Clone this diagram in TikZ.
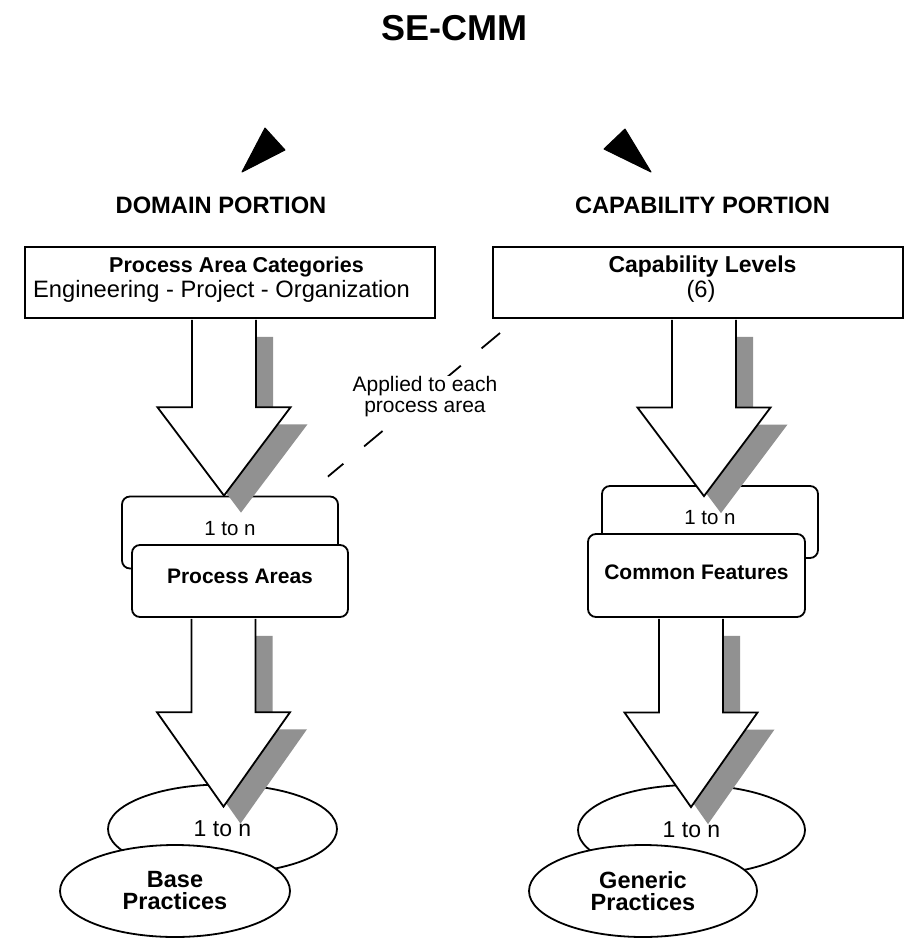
\documentclass[tikz,border=0pt]{standalone}
\usepackage{fontspec}
\setmainfont{Liberation Sans}
\usepackage{xcolor}
\usetikzlibrary{shapes.geometric, arrows, positioning, calc}

\definecolor{shadowgray}{RGB}{145,145,145}

% hollow block arrow with a flat gray shadow, from top point to tip point
\newcommand{\fatarrow}[2]{%
  \fill[shadowgray] let \p1=(#1), \p2=(#2), \p3=($(#1)!0.5!(#2)$) in
    (\x1-15pt,\y1-17.9pt) -- (\x1-15pt,\y3-17pt) -- (\x1-49.5pt,\y3-17pt) -- (\x2+17pt,\y2-17pt)
    -- (\x1+83.5pt,\y3-17pt) -- (\x1+49pt,\y3-17pt) -- (\x1+49pt,\y1-17.9pt) -- cycle;
  \filldraw[fill=white, line width=1.8pt] let \p1=(#1), \p2=(#2), \p3=($(#1)!0.5!(#2)$) in
    (\x1-32pt,\y1-0.9pt) -- (\x1-32pt,\y3) -- (\x1-66.5pt,\y3) -- (\x2,\y2)
    -- (\x1+66.5pt,\y3) -- (\x1+32pt,\y3) -- (\x1+32pt,\y1-0.9pt);
}

\begin{document}
\begin{tikzpicture}[x=1pt, y=-1pt]

\useasboundingbox (0,0) rectangle (908,938);

% Define block styles
\tikzstyle{heading} = [font=\fontsize{23.7}{26}\selectfont\bfseries, anchor=base]
\tikzstyle{portion} = [rectangle, draw=black, line width=2pt, minimum width=410pt, minimum height=71pt, align=center, inner sep=0pt, text depth=11pt, font=\fontsize{23.7}{25}\selectfont]
\tikzstyle{back} = [rectangle, rounded corners=8pt, draw=black, fill=white, line width=1.8pt, minimum width=216pt, minimum height=72pt, text depth=8pt, font=\fontsize{20.5}{24}\selectfont]
\tikzstyle{front} = [back, font=\fontsize{21}{24}\selectfont\bfseries]
\tikzstyle{oval} = [ellipse, draw=black, fill=white, line width=1.8pt, minimum width=229pt, minimum height=89pt, inner sep=0pt, font=\fontsize{23}{26}\selectfont]
\tikzstyle{frontoval} = [oval, align=center, minimum height=92pt, font=\fontsize{23.5}{22}\selectfont\bfseries]
\tikzstyle{pointer} = [fill=black, draw=black, line width=1pt, line join=round]

% Title and headings
\node (title) [anchor=base, font=\fontsize{36}{40}\selectfont\bfseries] at (454,40) {SE-CMM};
\node (domain) [heading] at (221,213) {DOMAIN PORTION};
\node (capability) [heading] at (702.5,213) {CAPABILITY PORTION};

\filldraw [pointer] (265,128) -- (285,150) -- (242,172) -- cycle;
\filldraw [pointer] (625,129) -- (604,149) -- (651,172) -- cycle;

% Top boxes
\node (pac) [portion] at (230,282.5) {\hspace*{13pt}{\fontsize{21.5}{25}\selectfont\bfseries Process Area Categories}\\\hspace*{-17pt}Engineering - Project - Organization};
\node (cl) [portion] at (698,282.5) {\hspace*{9pt}{\fontsize{23}{25}\selectfont\bfseries Capability Levels}\\\hspace*{6pt}(6)};

% Middle boxes
\node (pa1) [back] at (230,532.5) {1 to n};
\node (pa) [front, below of=pa1, node distance=48.5pt, xshift=10pt, text depth=10pt] {Process Areas};
\node (cf1) [back, text depth=9pt] at (710,522) {1 to n};
\node (cf) [front, below of=cf1, node distance=53.5pt, xshift=-13.5pt, minimum width=217pt, minimum height=83pt, text depth=7pt] {Common Features};

% Ovals
\node (bp1) [oval] at (222.5,829) {1 to n};
\node (bp) [frontoval, below of=bp1, node distance=62pt, xshift=-47.5pt, minimum width=230pt] {Base\\Practices};
\node (gp1) [oval, minimum width=227pt, minimum height=90pt] at (691.5,830) {1 to n};
\node (gp) [frontoval, below of=gp1, node distance=61pt, xshift=-48.5pt, minimum width=228pt] {Generic\\Practices};

% Arrow axes
\coordinate (axA) at (224,0);
\coordinate (axB) at (223.5,0);
\coordinate (axC) at (704,0);
\coordinate (axD) at (691,0);
\coordinate (topA) at (axA |- pac.south);
\coordinate (tipA) at (axA |- pa1.north);
\coordinate (topB) at (axB |- pa.south);
\coordinate (tipB) at ($(axB |- bp1.north)+(0,23)$);
\coordinate (topC) at (axC |- cl.south);
\coordinate (tipC) at ($(axC |- cf1.north)+(0,11)$);
\coordinate (topD) at (axD |- cf.south);
\coordinate (tipD) at ($(axD |- gp1.north)+(0,23)$);

% Arrows
\fatarrow{topA}{tipA}
\fatarrow{topB}{tipB}
\fatarrow{topC}{tipC}
\fatarrow{topD}{tipD}

% Dashed link
\coordinate (dashstart) at ($(cl.south west)+(8,14)$);
\coordinate (dashend) at ($(pa1.north east)+(-11,-19)$);
\draw [line width=1.8pt, dash pattern=on 24pt off 27pt] (dashstart) -- (dashend);
\node (applied) [fill=white, align=center, inner sep=1pt, font=\fontsize{21}{21}\selectfont] at (425,397) {Applied to each\\process area};

\end{tikzpicture}
\end{document}
